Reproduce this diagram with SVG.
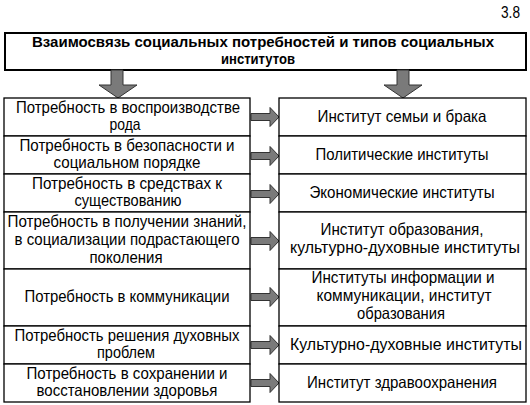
<svg xmlns="http://www.w3.org/2000/svg" width="530" height="405" viewBox="0 0 530 405">
<style>
.box{fill:#fff;stroke:#000;stroke-width:1.3}
.tbox{fill:#fff;stroke:#000;stroke-width:2}
.t{font-family:"Liberation Sans Narrow","Liberation Sans",Arial,sans-serif;font-size:16.5px;fill:#000;text-anchor:middle}
.tb{font-family:"Liberation Sans Narrow","Liberation Sans",Arial,sans-serif;font-size:15px;font-weight:bold;fill:#000;text-anchor:middle}
.arr{fill:#7a7a7a;stroke:#333;stroke-width:1}
</style>
<defs>
<path id="ra" class="arr" d="M0,-3.5 H19 V-9.5 L28,0 L19,9.5 V3.5 H0 Z"/>
</defs>
<text x="520" y="18" class="t" style="text-anchor:end;font-size:17px" textLength="19" lengthAdjust="spacingAndGlyphs">3.8</text>
<g id="title">
<rect class="tbox" x="5" y="33" width="521" height="37"/>
<text class="tb" x="263" y="47" textLength="462" lengthAdjust="spacingAndGlyphs">Взаимосвязь социальных потребностей и типов социальных</text>
<text class="tb" x="258" y="64" textLength="74" lengthAdjust="spacingAndGlyphs">институтов</text>
</g>
<g id="connectors">
<path class="arr" d="M111,70 H123 V85 H137 L118,98 L99,85 H111 Z"/>
<path class="arr" d="M397,70 H409 V85 H422 L403,98 L384,85 H397 Z"/>
<use href="#ra" x="251" y="117"/>
<use href="#ra" x="251" y="156"/>
<use href="#ra" x="251" y="194"/>
<use href="#ra" x="251" y="241"/>
<use href="#ra" x="251" y="297"/>
<use href="#ra" x="251" y="345"/>
<use href="#ra" x="251" y="383"/>
</g>
<g id="n1"><rect class="box" x="4" y="98" width="246" height="38"/>
<text class="t" x="128" y="113" textLength="224" lengthAdjust="spacingAndGlyphs">Потребность в воспроизводстве</text><text class="t" x="125" y="130" textLength="31" lengthAdjust="spacingAndGlyphs">рода</text></g>
<g id="n2"><rect class="box" x="4" y="136" width="246" height="38"/>
<text class="t" x="127" y="151" textLength="215" lengthAdjust="spacingAndGlyphs">Потребность в безопасности и</text><text class="t" x="127" y="168" textLength="147" lengthAdjust="spacingAndGlyphs">социальном порядке</text></g>
<g id="n3"><rect class="box" x="4" y="174" width="246" height="38"/>
<text class="t" x="127" y="189" textLength="190" lengthAdjust="spacingAndGlyphs">Потребность в средствах к</text><text class="t" x="128" y="206" textLength="107" lengthAdjust="spacingAndGlyphs">существованию</text></g>
<g id="n4"><rect class="box" x="4" y="212" width="246" height="57"/>
<text class="t" x="127" y="227" textLength="239" lengthAdjust="spacingAndGlyphs">Потребность в получении знаний,</text><text class="t" x="127" y="245" textLength="225" lengthAdjust="spacingAndGlyphs">в социализации подрастающего</text><text class="t" x="126" y="263" textLength="73" lengthAdjust="spacingAndGlyphs">поколения</text></g>
<g id="n5"><rect class="box" x="4" y="269" width="246" height="57"/>
<text class="t" x="127" y="302" textLength="205" lengthAdjust="spacingAndGlyphs">Потребность в коммуникации</text></g>
<g id="n6"><rect class="box" x="4" y="326" width="246" height="38"/>
<text class="t" x="127" y="341" textLength="225" lengthAdjust="spacingAndGlyphs">Потребность решения духовных</text><text class="t" x="126" y="358" textLength="58" lengthAdjust="spacingAndGlyphs">проблем</text></g>
<g id="n7"><rect class="box" x="4" y="364" width="246" height="38"/>
<text class="t" x="127" y="379" textLength="201" lengthAdjust="spacingAndGlyphs">Потребность в сохранении и</text><text class="t" x="127" y="396" textLength="181" lengthAdjust="spacingAndGlyphs">восстановлении здоровья</text></g>
<g id="m1"><rect class="box" x="279" y="98" width="247" height="38"/>
<text class="t" x="402" y="122" textLength="169" lengthAdjust="spacingAndGlyphs">Институт семьи и брака</text></g>
<g id="m2"><rect class="box" x="279" y="136" width="247" height="38"/>
<text class="t" x="402" y="160" textLength="173" lengthAdjust="spacingAndGlyphs">Политические институты</text></g>
<g id="m3"><rect class="box" x="279" y="174" width="247" height="38"/>
<text class="t" x="402" y="198" textLength="185" lengthAdjust="spacingAndGlyphs">Экономические институты</text></g>
<g id="m4"><rect class="box" x="279" y="212" width="247" height="57"/>
<text class="t" x="402" y="235" textLength="163" lengthAdjust="spacingAndGlyphs">Институт образования,</text><text class="t" x="405" y="253" textLength="230" lengthAdjust="spacingAndGlyphs">культурно-духовные институты</text></g>
<g id="m5"><rect class="box" x="279" y="269" width="247" height="57"/>
<text class="t" x="403" y="283" textLength="183" lengthAdjust="spacingAndGlyphs">Институты информации и</text><text class="t" x="404" y="301" textLength="175" lengthAdjust="spacingAndGlyphs">коммуникации, институт</text><text class="t" x="401" y="319" textLength="88" lengthAdjust="spacingAndGlyphs">образования</text></g>
<g id="m6"><rect class="box" x="279" y="326" width="247" height="38"/>
<text class="t" x="406" y="350" textLength="232" lengthAdjust="spacingAndGlyphs">Культурно-духовные институты</text></g>
<g id="m7"><rect class="box" x="279" y="364" width="247" height="38"/>
<text class="t" x="402" y="388" textLength="190" lengthAdjust="spacingAndGlyphs">Институт здравоохранения</text></g>
</svg>
